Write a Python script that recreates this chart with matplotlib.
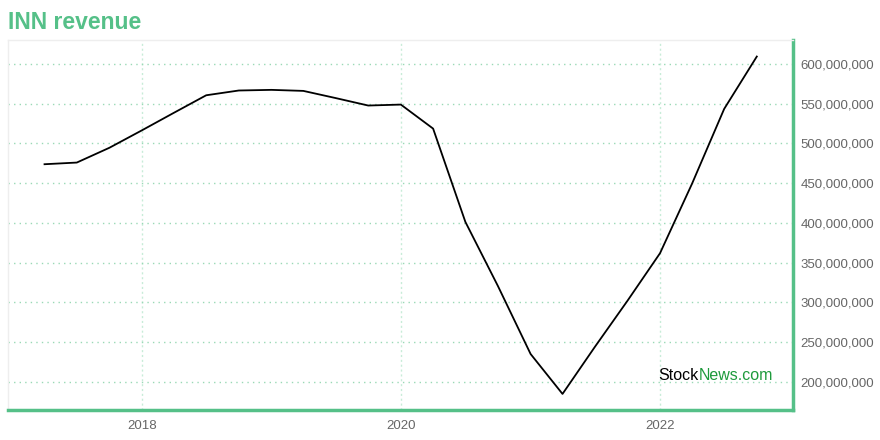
import matplotlib
matplotlib.use("Agg")
import matplotlib.pyplot as plt
import matplotlib.ticker as mticker
import numpy as np
import pandas as pd

plt.rcParams['font.family'] = ['Liberation Sans', 'DejaVu Sans']

# quarterly revenue (quarter end dates), values in dollars
quarters = pd.date_range("2017-03-31", periods=23, freq="QE")
revenue = [473.8e6, 475.9e6, 494.5e6, 516.5e6, 538.5e6, 560.5e6, 566.5e6, 567.3e6,
           566.0e6, 557.0e6, 547.6e6, 548.8e6, 518.6e6, 401.3e6, 320.5e6, 235.2e6,
           185.0e6, 244.0e6, 302.0e6, 361.9e6, 449.0e6, 543.4e6, 609.2e6]
y_ticks = [200e6, 250e6, 300e6, 350e6, 400e6, 450e6, 500e6, 550e6, 600e6]
x_ticks = ["2018", "2020", "2022"]

GREEN = "#55c088"
GRID = "#9ad9b6"

fig = plt.figure(figsize=(8.8, 4.4), dpi=100)
ax = fig.add_axes([0.0091, 0.0682, 0.8920, 0.8409])

ax.plot(quarters, revenue, color="black", lw=1.3)

ax.set_xlim(pd.Timestamp("2016-12-18"), pd.Timestamp("2023-01-10"))
ax.set_ylim(164.8e6, 630e6)

ax.set_xticks([pd.Timestamp(t + "-01-01") for t in x_ticks])
ax.set_xticklabels(x_ticks)
ax.set_yticks(y_ticks)
ax.yaxis.set_major_formatter(mticker.FuncFormatter(lambda v, p: f"{v:,.0f}"))
ax.yaxis.tick_right()
ax.tick_params(axis="both", length=0, labelsize=9.5, colors="#666666")
ax.tick_params(axis="y", pad=5.5)
ax.tick_params(axis="x", pad=7)

ax.grid(axis="y", color=GRID, ls=(0, (1, 3)), lw=1)
ax.grid(axis="x", color="#c8ecd8", ls=(0, (1.5, 2)), lw=1)
ax.set_axisbelow(True)

for side in ("left", "top"):
    ax.spines[side].set_color("#eeeeee")
    ax.spines[side].set_linewidth(1)
for side in ("right", "bottom"):
    ax.spines[side].set_color(GREEN)
    ax.spines[side].set_linewidth(2.5)

fig.text(0.009, 0.948, "INN revenue", color=GREEN, fontsize=16.5,
         fontweight="bold", va="center", ha="left")

t1 = ax.text(0.829, 0.082, "Stock", transform=ax.transAxes, color="black",
             fontsize=11.5, ha="left", va="baseline")
ax.annotate("News.com", xy=(1, 0), xycoords=t1, color="#1e9a3c",
            fontsize=11.5, ha="left", va="bottom")

fig.savefig("out.png", dpi=100)
